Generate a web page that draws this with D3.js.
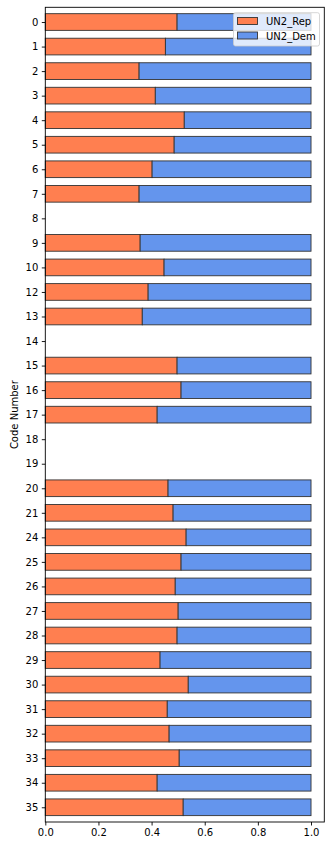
<!DOCTYPE html>
<html><head><meta charset="utf-8">
<script src="https://cdn.jsdelivr.net/npm/d3@7"></script>
<style>body{margin:0;background:#fff}svg{display:block}text{font-family:"DejaVu Sans",sans-serif}</style>
</head><body><svg id="c" width="329" height="845"></svg>
<script>
const categories = ["0","1","2","3","4","5","6","7","8","9","10","12","13","14","15","16","17","18","19","20","21","24","25","26","27","28","29","30","31","32","33","34","35"];
const repValues = [0.496,0.452,0.353,0.414,0.523,0.485,0.402,0.353,null,0.357,0.447,0.387,0.365,null,0.496,0.511,0.421,null,null,0.462,0.481,0.530,0.511,0.489,0.500,0.496,0.432,0.538,0.459,0.466,0.504,0.421,0.519];
const demValues = repValues.map(v => v == null ? null : +(1 - v).toFixed(3));
const xTicks = [0,0.2,0.4,0.6,0.8,1.0];
const seriesNames = ["UN2_Rep","UN2_Dem"];
const colors = ["#FF7F50","#6495ED"];

const svg = d3.select("#c");
const L = 45.3, R = 324.3, T = 7.3, B = 822;
const x = d3.scaleLinear().domain([0,1.05]).range([L,R]);
const y = d3.scaleLinear().domain([-0.6, categories.length - 1 + 0.6]).range([T,B]);
const bh = 0.68;

const g = svg.append("g");
categories.forEach((c,i) => {
  const r = repValues[i], d = demValues[i];
  if (r == null) return;
  g.append("rect").attr("x", x(0)).attr("y", y(i - bh/2)).attr("width", x(r) - x(0)).attr("height", y(i + bh/2) - y(i - bh/2))
    .attr("fill", colors[0]).attr("stroke", "#333").attr("stroke-width", 0.9);
  g.append("rect").attr("x", x(r)).attr("y", y(i - bh/2)).attr("width", x(r + d) - x(r)).attr("height", y(i + bh/2) - y(i - bh/2))
    .attr("fill", colors[1]).attr("stroke", "#333").attr("stroke-width", 0.9);
});

// spines
svg.append("rect").attr("x", L).attr("y", T).attr("width", R - L).attr("height", B - T)
  .attr("fill", "none").attr("stroke", "#000").attr("stroke-width", 0.9);

// x axis
const xa = svg.append("g").attr("transform", `translate(0,${B})`)
  .call(d3.axisBottom(x).tickValues(xTicks).tickFormat(d3.format(".1f")).tickSize(3.5).tickPadding(3.5));
xa.select(".domain").remove();
xa.selectAll("text").attr("font-size", "10px").attr("fill", "#000").style("font-family", "DejaVu Sans");
xa.selectAll("line").attr("stroke", "#000").attr("stroke-width", 0.9);

// y axis
const ya = svg.append("g").attr("transform", `translate(${L},0)`)
  .call(d3.axisLeft(y).tickValues(d3.range(categories.length)).tickFormat(i => categories[i]).tickSize(3.5).tickPadding(3.5));
ya.select(".domain").remove();
ya.selectAll("text").attr("font-size", "10px").attr("fill", "#000").style("font-family", "DejaVu Sans");
ya.selectAll("line").attr("stroke", "#000").attr("stroke-width", 0.9);

svg.append("text").attr("transform", `translate(18,${(T + B) / 2}) rotate(-90)`)
  .attr("text-anchor", "middle").attr("font-size", "10px").text("Code Number");

// legend
const lg = svg.append("g");
lg.append("rect").attr("x", 233.5).attr("y", 12.7).attr("width", 86).attr("height", 33.3).attr("rx", 2)
  .attr("fill", "#fff").attr("fill-opacity", 0.8).attr("stroke", "#ccc").attr("stroke-width", 0.8);
seriesNames.forEach((n,i) => {
  const yy = 17.5 + i * 14.5;
  lg.append("rect").attr("x", 237.5).attr("y", yy).attr("width", 20).attr("height", 7)
    .attr("fill", colors[i]).attr("stroke", "#333").attr("stroke-width", 0.9);
  lg.append("text").attr("x", 266).attr("y", yy + 7.5).attr("font-size", "10px").text(n);
});
</script></body></html>
